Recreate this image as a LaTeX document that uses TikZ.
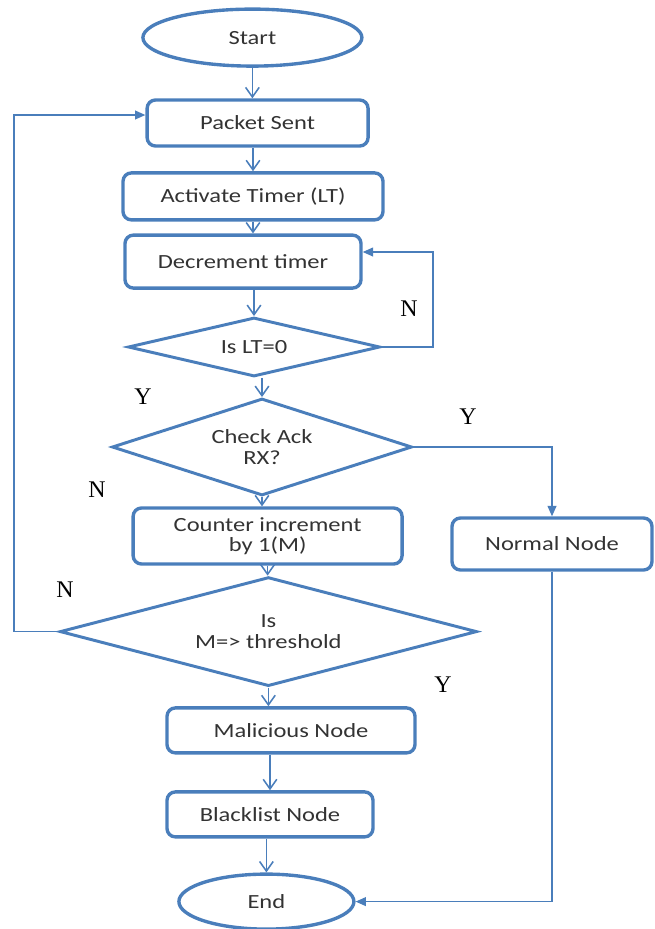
\documentclass[tikz,border=0pt]{standalone}
\usepackage{fontspec}
\setmainfont{Liberation Serif}
\newfontfamily\boxfont{Carlito}[FakeStretch=1.22]
\usetikzlibrary{arrows.meta, shapes.geometric, calc}
\definecolor{fcblue}{HTML}{4A7EBB}
\definecolor{fctext}{HTML}{333333}

\begin{document}
\begin{tikzpicture}[
  every node/.style={font=\boxfont\fontsize{14.3}{14.5}\selectfont, text=fctext},
  procbox/.style={rectangle, draw=fcblue, line width=2.4pt, rounded corners=6pt, align=center, inner sep=2pt},
  termnode/.style={ellipse, draw=fcblue, line width=2.4pt, inner sep=0pt},
  decnode/.style={diamond, draw=fcblue, line width=2.1pt, align=center, inner sep=0pt, aspect=4},
  yn/.style={font=\rmfamily\fontsize{17}{17}\selectfont, text=black},
  flow/.style={draw=fcblue, line width=1.1pt, -{Straight Barb[length=2.4mm, width=3.4mm]}},
  back/.style={draw=fcblue, line width=1.1pt, -{Triangle[length=2.6mm, width=2.2mm]}},
]
\useasboundingbox (0,0) rectangle (16.375,-23.225);

% Main column
\node[termnode, minimum width=5.475cm, minimum height=1.425cm] (start) at (6.31, -0.94) {Start};
\node[procbox, minimum width=5.525cm, minimum height=1.15cm] (pkt) at (6.44, -3.075) {Packet Sent};
\node[procbox, minimum width=6.5cm, minimum height=1.175cm] (act) at (6.325, -4.91) {Activate Timer (LT)};
\node[procbox, minimum width=5.9cm, minimum height=1.325cm] (dec) at (6.075, -6.54) {Decrement timer};
\node[decnode, minimum width=6.3cm, minimum height=1.475cm] (lt) at (6.35, -8.675) {Is LT=0};
\node[decnode, aspect=3, minimum width=7.5cm, minimum height=2.425cm] (chk) at (6.55, -11.175) {Check Ack\\RX?};
\node[procbox, minimum width=6.725cm, minimum height=1.4cm] (cnt) at (6.69, -13.4) {Counter increment\\by 1(M)};
\node[decnode, minimum width=10.425cm, minimum height=2.725cm] (thr) at (6.71, -15.79) {Is\\M=> threshold};
\node[procbox, minimum width=6.2cm, minimum height=1.125cm] (mal) at (7.275, -18.26) {Malicious Node};
\node[procbox, minimum width=5.15cm, minimum height=1.125cm] (blk) at (6.75, -20.36) {Blacklist Node};
\node[termnode, minimum width=4.375cm, minimum height=1.375cm] (stop) at (6.66, -22.54) {End};

% Right branch
\node[procbox, minimum width=5.0cm, minimum height=1.3cm] (norm) at (13.8, -13.6) {Normal Node};

% Y / N labels
\node[yn] (nlt) at (10.225, -7.725) {N};
\node[yn] (ylt) at (3.575, -9.925) {Y};
\node[yn] (ychk) at (11.7, -10.425) {Y};
\node[yn] (nchk) at (2.425, -12.25) {N};
\node[yn] (nthr) at (1.625, -14.75) {N};
\node[yn] (ythr) at (11.075, -17.125) {Y};

% Loop corners
\coordinate (nloop) at (10.825, -6.3);
\coordinate (mloop) at (0.35, -2.875);

% Straight flow
\draw[flow] (start.south) -- (start.south |- pkt.north);
\draw[flow] (act.north |- pkt.south) -- (act.north);
\draw[flow] (act.south) -- (act.south |- dec.north);
\draw[flow] (lt.north |- dec.south) -- (lt.north);
\draw[flow] (chk.north |- lt.south) -- (chk.north);
\draw[flow] (chk.south) -- (chk.south |- cnt.north);
\draw[flow] (cnt.south) -- (cnt.south |- thr.north);
\draw[flow] (thr.south) -- (thr.south |- mal.north);
\draw[flow] (blk.north |- mal.south) -- (blk.north);
\draw[flow] (stop.north |- blk.south) -- (stop.north);

% Loops and branch
\draw[back] (lt.east) -| (nloop) -- (nloop -| dec.east);
\draw[back] (thr.west) -| (mloop) -- (mloop -| pkt.west);
\draw[back] (chk.east) -| (norm.north);
\draw[back] (norm.south) |- (stop.east);

\end{tikzpicture}
\end{document}
